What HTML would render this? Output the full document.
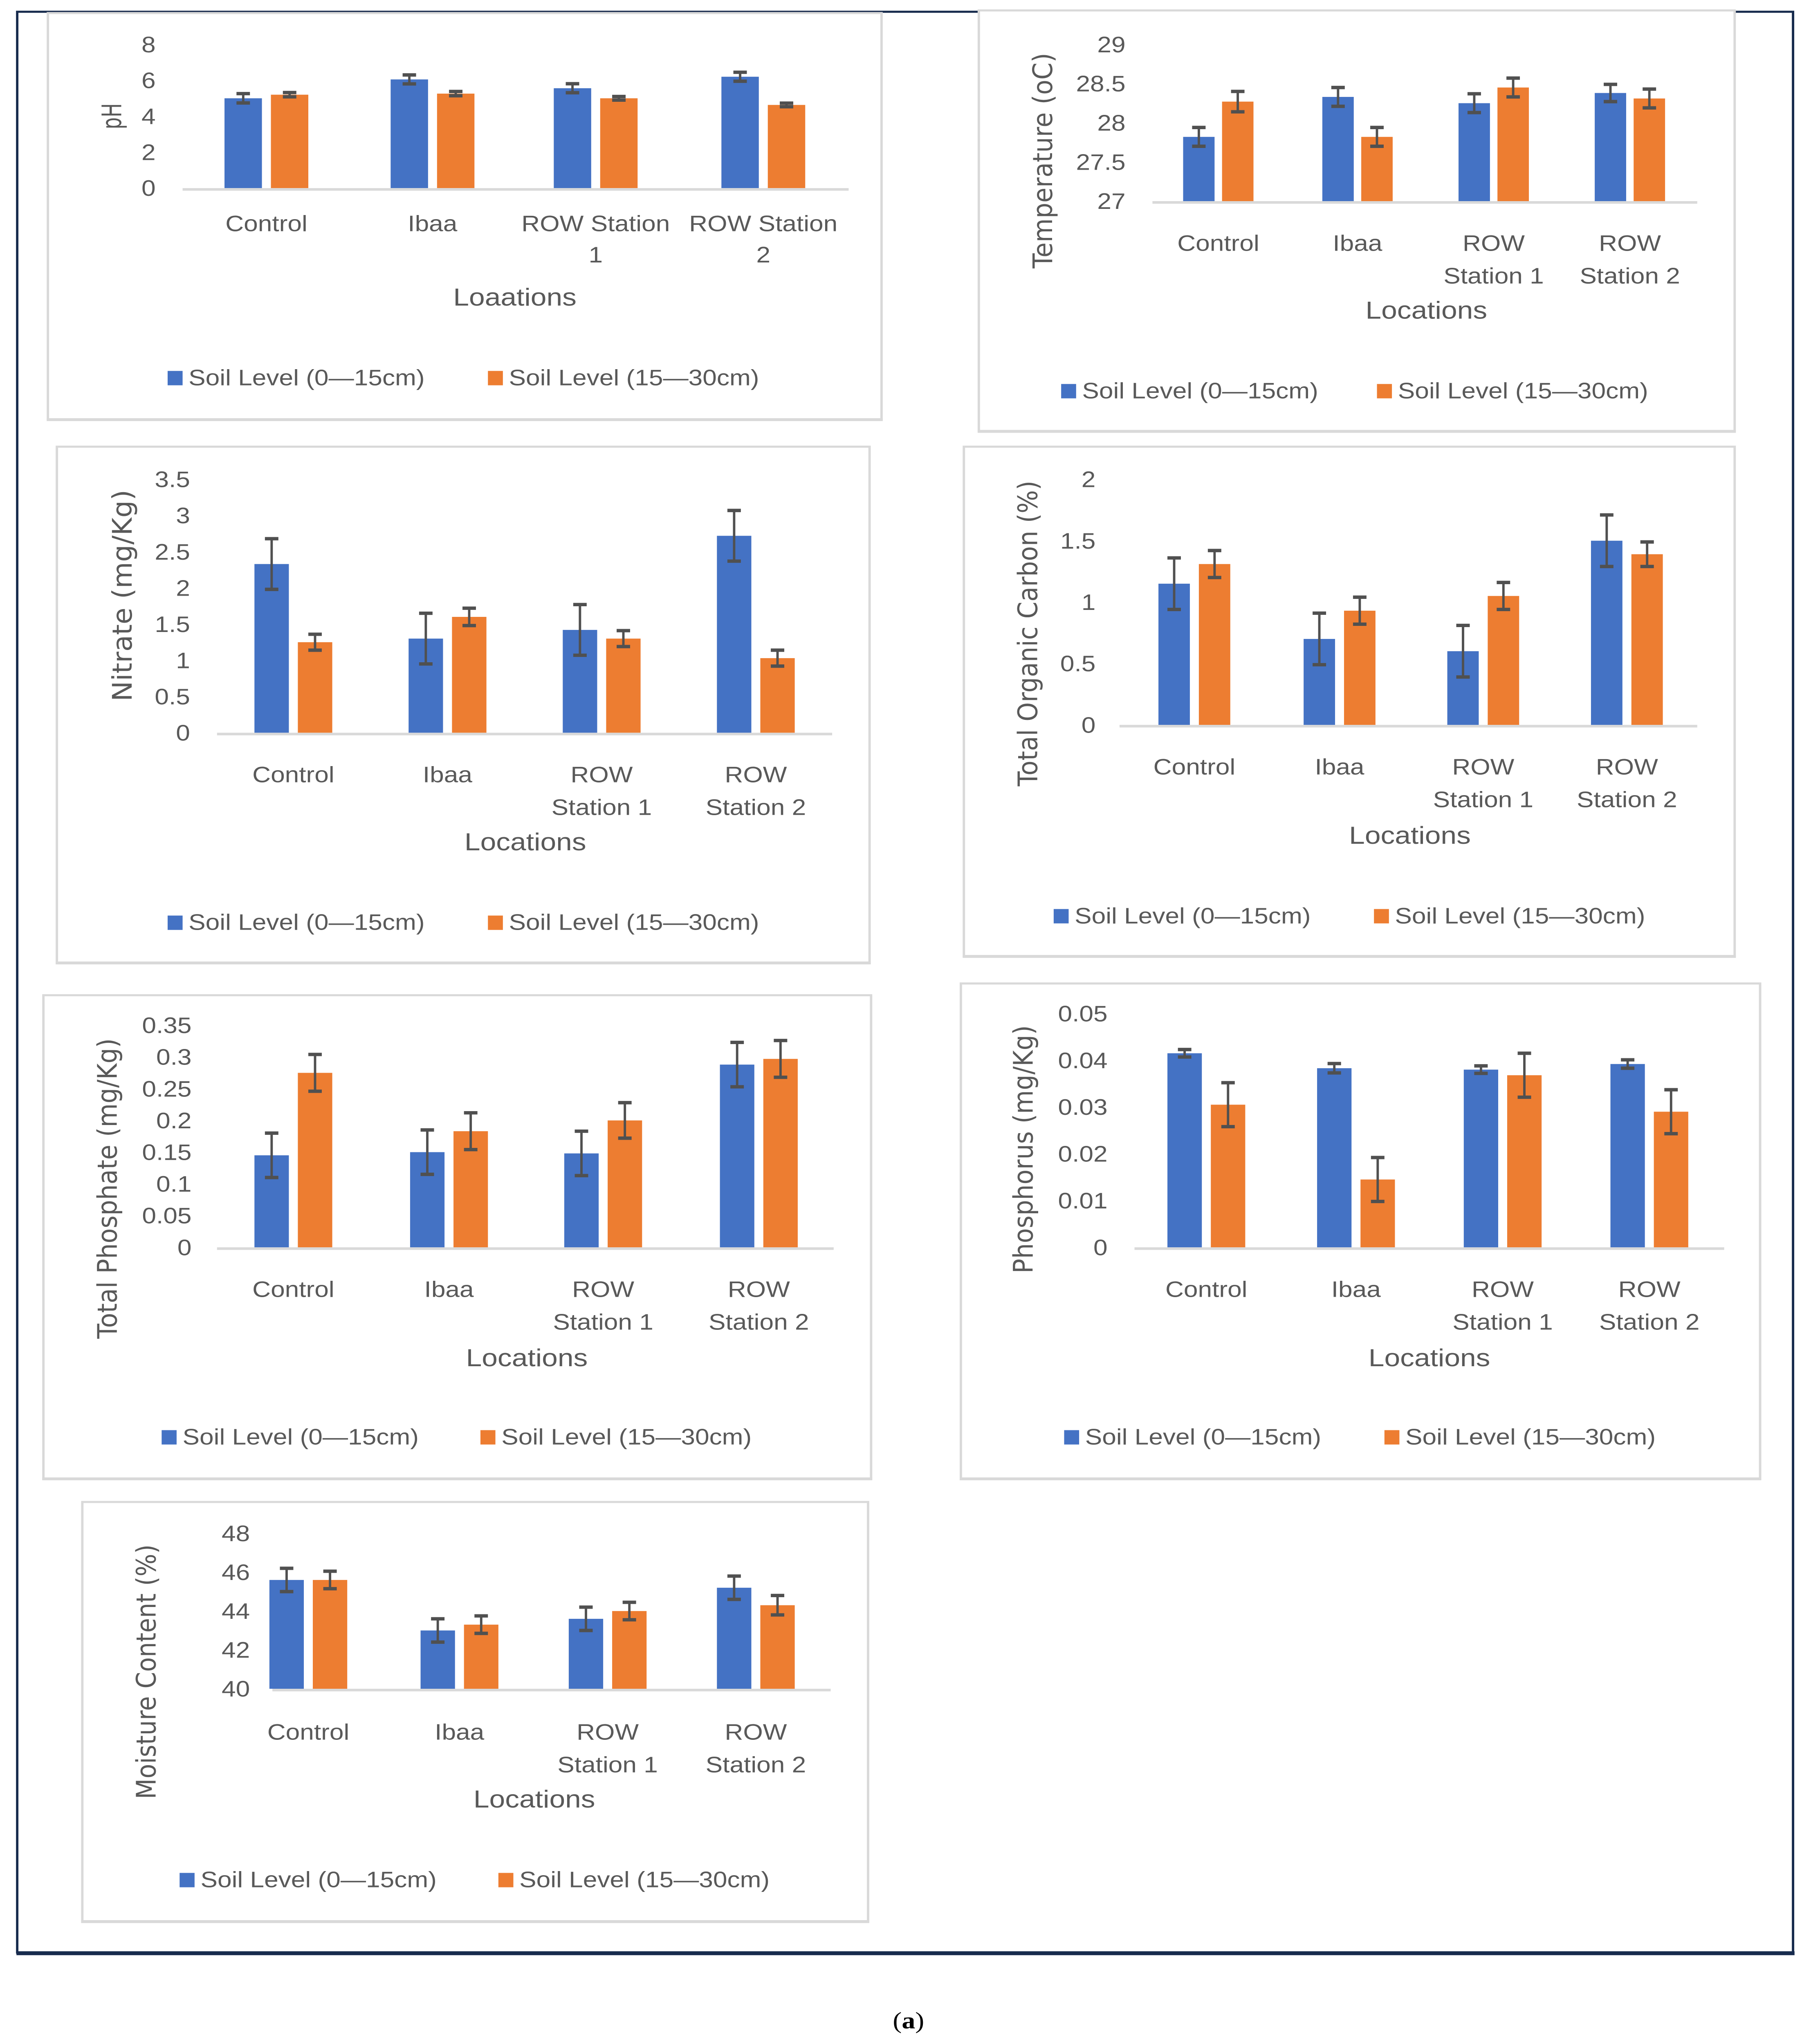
<!DOCTYPE html>
<html><head><meta charset="utf-8"><meta name="viewport" content="width=device-width,initial-scale=1"><style>
html,body{margin:0;padding:0;background:#fff;width:100vw;height:100vh;overflow:hidden;}
svg{display:block;position:fixed;left:0;top:0;width:100vw;height:100vh;}
text{font-family:"Liberation Sans Narrow","Liberation Sans",sans-serif;fill:#595959;}
</style></head><body>
<svg id="fig" viewBox="0 0 1210 1565" preserveAspectRatio="none" xmlns="http://www.w3.org/2000/svg">
<rect x="11.5" y="9" width="1186.5" height="1486" fill="none" stroke="#172b4d" stroke-width="1.6"/>
<rect x="11" y="1494" width="1188" height="3" fill="#172b4d"/>
<text x="607" y="1553" text-anchor="middle" style="font-family:'Liberation Serif',serif;fill:#000;font-size:18px">(<tspan font-weight="bold">a</tspan>)</text>
<g id="charts"></g>
</svg>
<script>
const categories = ["Control","Ibaa","ROW Station 1","ROW Station 2"];
const phBlue = [5.0,6.05,5.56,6.2];
const phOrange = [5.2,5.26,5.0,4.63];
const phBlueErr = [0.26,0.25,0.25,0.25];
const phOrangeErr = [0.12,0.12,0.1,0.1];
const phTicks = [0,2,4,6,8];
const tempBlue = [27.82,28.33,28.25,28.38];
const tempOrange = [28.27,27.82,28.45,28.31];
const tempBlueErr = [0.12,0.12,0.12,0.11];
const tempOrangeErr = [0.13,0.12,0.12,0.12];
const tempTicks = [27,27.5,28,28.5,29];
const nitBlue = [2.33,1.3,1.42,2.72];
const nitOrange = [1.25,1.6,1.3,1.03];
const nitBlueErr = [0.35,0.35,0.35,0.35];
const nitOrangeErr = [0.11,0.12,0.11,0.11];
const nitTicks = [0,0.5,1,1.5,2,2.5,3,3.5];
const tocBlue = [1.15,0.7,0.6,1.5];
const tocOrange = [1.31,0.93,1.05,1.39];
const tocBlueErr = [0.21,0.21,0.21,0.21];
const tocOrangeErr = [0.11,0.11,0.11,0.1];
const tocTicks = [0,0.5,1,1.5,2];
const tpBlue = [0.145,0.15,0.148,0.288];
const tpOrange = [0.275,0.183,0.2,0.297];
const tpBlueErr = [0.035,0.035,0.035,0.035];
const tpOrangeErr = [0.029,0.029,0.028,0.029];
const tpTicks = [0,0.05,0.1,0.15,0.2,0.25,0.3,0.35];
const phoBlue = [0.0415,0.0383,0.038,0.0392];
const phoOrange = [0.0305,0.0145,0.0368,0.029];
const phoBlueErr = [0.0008,0.001,0.0008,0.0009];
const phoOrangeErr = [0.0047,0.0047,0.0047,0.0047];
const phoTicks = [0,0.01,0.02,0.03,0.04,0.05];
const mcBlue = [45.6,43.0,43.6,45.2];
const mcOrange = [45.6,43.3,44.0,44.3];
const mcBlueErr = [0.6,0.6,0.6,0.6];
const mcOrangeErr = [0.45,0.45,0.45,0.5];
const mcTicks = [40,42,44,46,48];

const NS="http://www.w3.org/2000/svg";
const root=document.getElementById('charts');
function mk(tag,parent,attrs){const e=document.createElementNS(NS,tag);for(const k in attrs)e.setAttribute(k,attrs[k]);parent.appendChild(e);return e;}

const charts=[
 {id:"ph",box:[32,10,557,311],y0:144,y1:34,min:0,max:8,ticks:phTicks,tx:104,ax:[122,567],cx:[178,289,398,510],bw:25,gap:6,blue:phBlue,orange:phOrange,be:phBlueErr,oe:phOrangeErr,ytitle:"pH",ytl:20,ytx:81,yty:89,lab:[171,195],oneLineWrap:true,xt:"Loaations",xtx:344,xty:234,leg:[112,326,294]},
 {id:"temperature",box:[654,8,505,322],y0:154,y1:34,min:27,max:29,ticks:tempTicks,tx:752,ax:[770,1134],cx:[814,907,998,1089],bw:21,gap:5,blue:tempBlue,orange:tempOrange,be:tempBlueErr,oe:tempOrangeErr,ytitle:"Temperature (oC)",ytl:165,ytx:703,yty:123,lab:[186,211],xt:"Locations",xtx:953,xty:244,leg:[709,920,304]},
 {id:"nitrate",box:[38,342,543,395],y0:561,y1:367,min:0,max:3.5,ticks:nitTicks,tx:127,ax:[145,556],cx:[196,299,402,505],bw:23,gap:6,blue:nitBlue,orange:nitOrange,be:nitBlueErr,oe:nitOrangeErr,ytitle:"Nitrate  (mg/Kg)",ytl:162,ytx:88,yty:456,lab:[593,618],xt:"Locations",xtx:351,xty:651,leg:[112,326,711]},
 {id:"organic-carbon",box:[644,342,515,390],y0:555,y1:367,min:0,max:2,ticks:tocTicks,tx:732,ax:[748,1134],cx:[798,895,991,1087],bw:21,gap:6,blue:tocBlue,orange:tocOrange,be:tocBlueErr,oe:tocOrangeErr,ytitle:"Total Organic Carbon (%)",ytl:234,ytx:693,yty:485,lab:[587,612],xt:"Locations",xtx:942,xty:646,leg:[704,918,706]},
 {id:"phosphate",box:[29,762,553,370],y0:955,y1:785,min:0,max:0.35,ticks:tpTicks,tx:128,ax:[145,557],cx:[196,300,403,507],bw:23,gap:6,blue:tpBlue,orange:tpOrange,be:tpBlueErr,oe:tpOrangeErr,ytitle:"Total Phosphate  (mg/Kg)",ytl:230,ytx:78,yty:910,lab:[987,1012],xt:"Locations",xtx:352,xty:1046,leg:[108,321,1105]},
 {id:"phosphorus",box:[642,753,534,379],y0:955,y1:776,min:0,max:0.05,ticks:phoTicks,tx:740,ax:[758,1152],cx:[806,906,1004,1102],bw:23,gap:6,blue:phoBlue,orange:phoOrange,be:phoBlueErr,oe:phoOrangeErr,ytitle:"Phosphorus  (mg/Kg)",ytl:190,ytx:690,yty:880,lab:[987,1012],xt:"Locations",xtx:955,xty:1046,leg:[711,925,1105]},
 {id:"moisture",box:[55,1150,525,321],y0:1293,y1:1174,min:40,max:48,ticks:mcTicks,tx:167,ax:[182,555],cx:[206,307,406,505],bw:23,gap:6,blue:mcBlue,orange:mcOrange,be:mcBlueErr,oe:mcOrangeErr,ytitle:"Moisture Content (%)",ytl:195,ytx:104,yty:1280,lab:[1326,1351],xt:"Locations",xtx:357,xty:1384,leg:[120,333,1444]}
];

charts.forEach(c=>{
 const g=mk('g',root,{});
 
 
 const [bx,by,bw,bh]=c.box;
 const box=mk('rect',g,{x:bx,y:by,width:bw,height:bh,fill:'#fff',stroke:'#d9d9d9','stroke-width':1.6});
 
 
 const sh=mk('rect',g,{x:bx-0.8,y:by+bh-0.8,width:bw+1.6,height:2.2,fill:'#d9d9d9'});
 
 
 const Y=v=>c.y0-(v-c.min)/(c.max-c.min)*(c.y0-c.y1);
 c.ticks.forEach(t=>{
  const tt=mk('text',g,{x:c.tx,y:Y(t)+6,'text-anchor':'end','font-size':17});
  tt.textContent=String(t);
  
  
 });
 const axis=mk('line',g,{x1:c.ax[0],x2:c.ax[1],y1:c.y0+1,y2:c.y0+1,stroke:'#d9d9d9','stroke-width':2});
 
 
 const series=[[c.blue,c.be,'#4472c4',-1,'blue'],[c.orange,c.oe,'#ed7d31',1,'orange']];
 categories.forEach((cat,i)=>{
  series.forEach(([vals,errs,col,side,nm])=>{
   const x= side<0 ? c.cx[i]-c.gap/2-c.bw : c.cx[i]+c.gap/2;
   const top=Y(vals[i]);
   const r=mk('rect',g,{x:x,y:top,width:c.bw,height:c.y0-top,fill:col});
   
   
   const mx=x+c.bw/2, e1=Y(vals[i]+errs[i]), e2=Y(vals[i]-errs[i]);
   const eg=mk('g',g,{stroke:'#505050','stroke-width':1.6});
   
   
   mk('line',eg,{x1:mx,x2:mx,y1:e1,y2:e2});
   mk('line',eg,{x1:mx-4.5,x2:mx+4.5,y1:e1,y2:e1,'stroke-width':2.6});
   mk('line',eg,{x1:mx-4.5,x2:mx+4.5,y1:e2,y2:e2,'stroke-width':2.6});
  });
  let lines;
  if(c.oneLineWrap){ lines = cat.startsWith('ROW') ? ['ROW Station', cat.slice(-1)] : [cat]; }
  else { lines = cat.startsWith('ROW') ? ['ROW', cat.slice(4)] : [cat]; }
  lines.forEach((ln,k)=>{
   const t=mk('text',g,{x:c.cx[i],y:c.lab[k]+6,'text-anchor':'middle','font-size':17});
   t.textContent=ln;
   
   
  });
 });
 const xt=mk('text',g,{x:c.xtx,y:c.xty,'text-anchor':'middle','font-size':19});
 xt.textContent=c.xt;
 
 
 const yt=mk('text',g,{x:0,y:0,'text-anchor':'middle','font-size':18,textLength:c.ytl,lengthAdjust:'spacingAndGlyphs',transform:`translate(${c.ytx},${c.yty}) rotate(-90)`,style:'font-family:"DejaVu Sans","Liberation Sans",sans-serif'});
 yt.textContent=c.ytitle;
 
 
 const [lb,lo,ly]=c.leg;
 [[lb,'#4472c4','Soil Level (0\u201415cm)','blue'],[lo,'#ed7d31','Soil Level (15\u201430cm)','orange']].forEach(([lx,col,txt,nm])=>{
  const lg=mk('g',g,{});
  
  
  mk('rect',lg,{x:lx,y:ly-10,width:10,height:11,fill:col});
  const t=mk('text',lg,{x:lx+14,y:ly+1,'font-size':17});
  t.textContent=txt;
 });
});
</script>
</body></html>
